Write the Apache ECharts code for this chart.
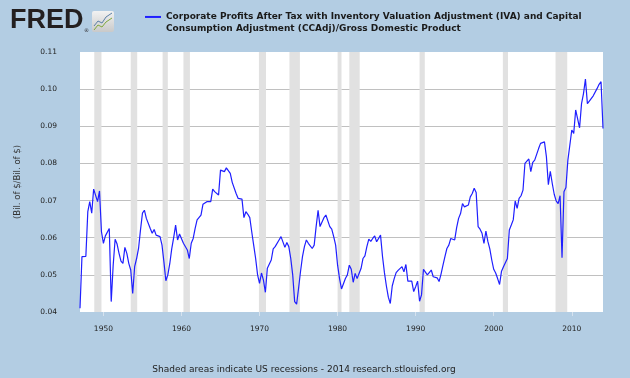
<!DOCTYPE html>
<html>
<head>
<meta charset="utf-8">
<script src="https://cdn.jsdelivr.net/npm/echarts@6/dist/echarts.min.js"></script>
<style>
  html, body { margin: 0; padding: 0; background: #b3cde3; }
  #chart { width: 630px; height: 378px; }
</style>
</head>
<body>
<div id="chart"></div>
<script>
// quarterly series, first point 1947Q1
const START_YEAR = 1947;
const SERIES_LINES = [
  'Corporate Profits After Tax with Inventory Valuation Adjustment (IVA) and Capital',
  'Consumption Adjustment (CCAdj)/Gross Domestic Product'
];
const Y_NAME = '(Bil. of $/Bil. of $)';
const X_TICKS = [1950, 1960, 1970, 1980, 1990, 2000, 2010];
const FOOTER = 'Shaded areas indicate US recessions - 2014 research.stlouisfed.org';

const RATIO = [
  0.0410, 0.0549, 0.0552, 0.0550,  0.0670, 0.0697, 0.0666, 0.0731, // 1947-48
  0.0727, 0.0697, 0.0726, 0.0616,  0.0585, 0.0605, 0.0602, 0.0625, // 1949-50
  0.0428, 0.0526, 0.0596, 0.0583,  0.0558, 0.0537, 0.0531, 0.0574, // 1951-52
  0.0558, 0.0531, 0.0513, 0.0450,  0.0522, 0.0544, 0.0571, 0.0621, // 1953-54
  0.0666, 0.0674, 0.0652, 0.0649,  0.0625, 0.0612, 0.0622, 0.0607, // 1955-56
  0.0610, 0.0603, 0.0581, 0.0535,  0.0484, 0.0500, 0.0530, 0.0570, // 1957-58
  0.0600, 0.0634, 0.0594, 0.0610,  0.0612, 0.0585, 0.0580, 0.0567, // 1959-60
  0.0544, 0.0585, 0.0598, 0.0625,  0.0648, 0.0652, 0.0661, 0.0690, // 1961-62
  0.0686, 0.0697, 0.0694, 0.0697,  0.0731, 0.0724, 0.0719, 0.0715, // 1963-64
  0.0782, 0.0785, 0.0778, 0.0788,  0.0793, 0.0773, 0.0749, 0.0751, // 1965-66
  0.0719, 0.0706, 0.0704, 0.0704,  0.0654, 0.0670, 0.0663, 0.0654, // 1967-68
  0.0616, 0.0580, 0.0544, 0.0500,  0.0477, 0.0505, 0.0486, 0.0453, // 1969-70
  0.0518, 0.0522, 0.0540, 0.0570,  0.0576, 0.0581, 0.0594, 0.0603, // 1971-72
  0.0607, 0.0574, 0.0587, 0.0576,  0.0544, 0.0500, 0.0428, 0.0421, // 1973-74
  0.0464, 0.0509, 0.0549, 0.0576,  0.0594, 0.0585, 0.0582, 0.0571, // 1975-76
  0.0580, 0.0630, 0.0674, 0.0630,  0.0625, 0.0654, 0.0661, 0.0666, // 1977-78
  0.0630, 0.0623, 0.0603, 0.0580,  0.0526, 0.0490, 0.0462, 0.0465, // 1979-80
  0.0490, 0.0500, 0.0526, 0.0515,  0.0480, 0.0504, 0.0490, 0.0486, // 1981-82
  0.0517, 0.0544, 0.0551, 0.0576,  0.0596, 0.0590, 0.0598, 0.0605, // 1983-84
  0.0589, 0.0594, 0.0607, 0.0550,  0.0506, 0.0470, 0.0440, 0.0423, // 1985-86
  0.0470, 0.0490, 0.0506, 0.0512,  0.0515, 0.0522, 0.0508, 0.0528, // 1987-88
  0.0483, 0.0482, 0.0483, 0.0455,  0.0468, 0.0483, 0.0429, 0.0446, // 1989-90
  0.0515, 0.0510, 0.0500, 0.0502,  0.0513, 0.0495, 0.0490, 0.0492, // 1991-92
  0.0482, 0.0502, 0.0526, 0.0549,  0.0571, 0.0580, 0.0598, 0.0603, // 1993-94
  0.0594, 0.0627, 0.0652, 0.0665,  0.0692, 0.0683, 0.0679, 0.0688, // 1995-96
  0.0710, 0.0719, 0.0733, 0.0722,  0.0630, 0.0623, 0.0612, 0.0585, // 1997-98
  0.0618, 0.0590, 0.0570, 0.0540,  0.0515, 0.0505, 0.0490, 0.0474, // 1999-00
  0.0510, 0.0522, 0.0519, 0.0544,  0.0621, 0.0634, 0.0648, 0.0699, // 2001-02
  0.0679, 0.0706, 0.0713, 0.0728,  0.0800, 0.0800, 0.0812, 0.0778, // 2003-04
  0.0803, 0.0809, 0.0813, 0.0840,  0.0854, 0.0849, 0.0858, 0.0818, // 2005-06
  0.0743, 0.0779, 0.0746, 0.0717,  0.0699, 0.0692, 0.0713, 0.0546, // 2007-08
  0.0724, 0.0735, 0.0809, 0.0849,  0.0890, 0.0881, 0.0944, 0.0946, // 2009-10
  0.0896, 0.0961, 0.0988, 0.1027,  0.0961, 0.0968, 0.0964, 0.0982, // 2011-12
  0.0979, 0.1002, 0.1013, 0.1020,  0.0894                          // 2013-14
];

// NBER recessions, decimal years (peak month .. trough month)
const REC_START = [1948.83, 1953.50, 1957.58, 1960.25, 1969.92, 1973.83, 1980.00, 1981.50, 1990.50, 2001.17, 2007.92];
const REC_END   = [1949.75, 1954.33, 1958.25, 1961.08, 1970.83, 1975.17, 1980.50, 1982.83, 1991.17, 2001.83, 2009.42];

const chart = echarts.init(document.getElementById('chart'), null, { renderer: 'canvas' });

const seriesName = SERIES_LINES.join(' ');
const lineData = RATIO.map((v, i) => [START_YEAR + i / 4, v]);
const recAreas = REC_START.map((s, i) => [{ xAxis: s }, { xAxis: REC_END[i] }]);

chart.setOption({
  backgroundColor: '#b3cde3',
  animation: false,
  grid: {
    left: 80, right: 27, top: 52, bottom: 66,
    show: true, backgroundColor: '#ffffff', borderWidth: 0, z: -2
  },
  legend: {
    left: 145, top: 0, padding: 0,
    data: [seriesName],
    icon: 'rect', itemWidth: 16, itemHeight: 2, itemGap: 6,
    // blank first line keeps the icon level with the first text line
    formatter: () => '\n' + SERIES_LINES.join('\n'),
    textStyle: {
      fontFamily: 'DejaVu Sans', fontWeight: 'bold', fontSize: 9,
      lineHeight: 11.3, color: '#1a1a1a'
    }
  },
  xAxis: {
    type: 'value', min: START_YEAR, max: 2014,
    axisLine: { show: false },
    axisTick: { show: true, customValues: X_TICKS, length: 4, lineStyle: { color: '#d6e2ee' } },
    axisLabel: {
      customValues: X_TICKS, margin: 13, color: '#222',
      fontFamily: 'DejaVu Sans', fontSize: 7.5,
      formatter: v => String(Math.round(v))
    },
    splitLine: { show: false }
  },
  yAxis: {
    type: 'value', min: 0.04, max: 0.11, interval: 0.01,
    name: Y_NAME, nameLocation: 'middle', nameGap: 58, nameRotate: 90,
    nameTextStyle: { fontFamily: 'DejaVu Sans', fontSize: 8.5, color: '#333' },
    axisLine: { show: false },
    axisTick: { show: false },
    axisLabel: {
      margin: 23, color: '#222', fontFamily: 'DejaVu Sans', fontSize: 7.5,
      formatter: v => v.toFixed(2)
    },
    splitLine: { show: true, showMinLine: false, showMaxLine: false, lineStyle: { color: '#c0c0c0', width: 1 } }
  },
  graphic: [
    { type: 'text', left: 10, top: 7, style: { text: 'FRED', font: 'bold 27px "Liberation Sans"', fill: '#231f20' } },
    { type: 'text', left: 84, top: 28, style: { text: '\u00ae', font: '5px "DejaVu Sans"', fill: '#231f20' } },
    { type: 'rect', left: 92, top: 11, shape: { width: 22, height: 21, r: 2 },
      style: { fill: new echarts.graphic.LinearGradient(0, 0, 0, 1, [{ offset: 0, color: '#f2f2f2' }, { offset: 1, color: '#c9c9c9' }]) } },
    { type: 'polyline', shape: { points: [[94, 26], [98, 21], [102, 23], [106, 17], [112, 13]] },
      style: { stroke: '#5b7fa6', lineWidth: 1, fill: null } },
    { type: 'polyline', shape: { points: [[94, 30], [98, 25], [102, 27], [106, 22], [112, 18]] },
      style: { stroke: '#7fa83c', lineWidth: 1, fill: null } },
    { type: 'text', x: 304, y: 370, style: { text: FOOTER, font: '9px "DejaVu Sans"', fill: '#222', textAlign: 'center', textVerticalAlign: 'middle' } }
  ],
  series: [
    {
      type: 'line', name: '_recessions', data: [], z: -1, silent: true,
      markArea: { silent: true, itemStyle: { color: '#e1e1e1' }, data: recAreas }
    },
    {
      type: 'line', name: seriesName, data: lineData, z: 3,
      showSymbol: false, symbol: 'none',
      lineStyle: { color: '#1f1fff', width: 1.2 },
      itemStyle: { color: '#1f1fff' }
    }
  ]
});
</script>
</body>
</html>
